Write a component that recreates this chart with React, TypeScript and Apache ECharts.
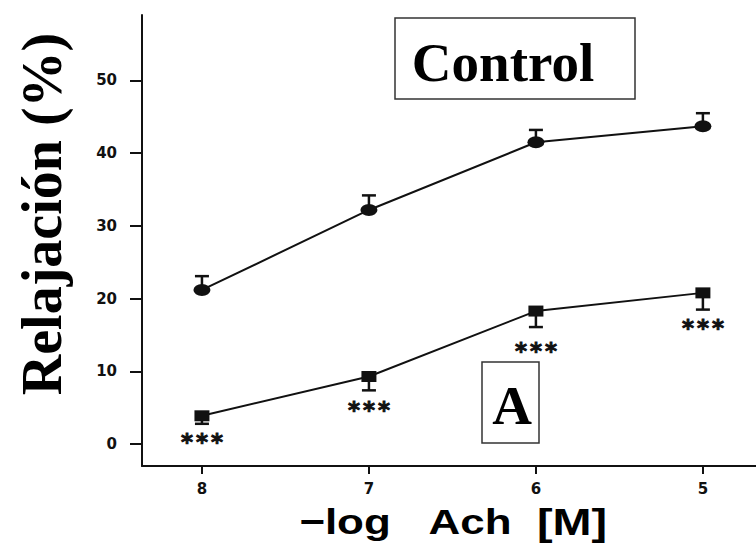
import React, { useEffect, useRef } from "react";
import * as echarts from "echarts";

// -log [Ach] (M) doses
const doses = [8, 7, 6, 5];
const doseTicks = [8, 7, 6, 5];
const yTicks = [0, 10, 20, 30, 40, 50];

// Control (circles): mean and SEM (upper bars)
const controlMean = [21.2, 32.2, 41.5, 43.7];
const controlSem = [1.9, 2.0, 1.7, 1.8];

// Treated "A" (squares): mean and SEM (lower bars)
const treatedMean = [3.9, 9.3, 18.3, 20.8];
const treatedSem = [1.1, 1.9, 2.2, 2.3];

// significance marks under the treated curve
const starLevel = [1.0, 5.4, 13.5, 16.6];
const starLabels = ["***", "***", "***", "***"];

const ellipseSymbol = "path://M0,6A8,6 0 1,1 16,6A8,6 0 1,1 0,6Z";
const ink = "#111";

export default function App() {
  const ref = useRef<HTMLDivElement>(null);

  useEffect(() => {
    const chart = echarts.init(ref.current!, null, { renderer: "svg" });

    const errData = (mean: number[], sem: number[], dir: number) =>
      doses.map((d, i) => [d, mean[i], mean[i] + dir * sem[i]]);

    const renderErr = (_p: any, api: any) => {
      const x = api.value(0);
      const p0 = api.coord([x, api.value(1)]);
      const p1 = api.coord([x, api.value(2)]);
      return {
        type: "group",
        children: [
          {
            type: "line",
            shape: { x1: p0[0], y1: p0[1], x2: p1[0], y2: p1[1] },
            style: { stroke: ink, lineWidth: 2.5 },
          },
          {
            type: "line",
            shape: { x1: p1[0] - 7, y1: p1[1], x2: p1[0] + 7, y2: p1[1] },
            style: { stroke: ink, lineWidth: 2.5 },
          },
        ],
      };
    };

    const renderStars = (p: any, api: any) => {
      const pt = api.coord([api.value(0), api.value(1)]);
      const chars = starLabels[p.dataIndex].split("");
      const step = 15;
      const start = -((chars.length - 1) * step) / 2;
      return {
        type: "group",
        children: chars.map((c, k) => ({
          type: "text",
          x: pt[0] + start + k * step,
          y: pt[1] + 5,
          style: {
            text: c,
            fontSize: 23,
            fontWeight: "bold",
            fontFamily: "DejaVu Sans",
            fill: ink,
            stroke: ink,
            lineWidth: 0.9,
            align: "center",
            verticalAlign: "middle",
          },
        })),
      };
    };

    const serif = "Liberation Serif";
    const tickFont = {
      fontFamily: "DejaVu Sans",
      fontWeight: "bold" as const,
      fontSize: 15,
      color: ink,
    };

    chart.setOption({
      animation: false,
      backgroundColor: "#fff",
      grid: { left: 142, right: 0, top: 15, bottom: 80, outerBoundsMode: "none" } as any,
      xAxis: {
        type: "value",
        inverse: true,
        min: 4.682,
        max: 8.359,
        splitLine: { show: false },
        axisLine: { show: true, onZero: false, lineStyle: { color: ink, width: 2 } },
        axisTick: { show: true, customValues: doseTicks, length: 8, lineStyle: { color: ink, width: 2 } },
        axisLabel: { customValues: doseTicks, margin: 15, ...tickFont },
      },
      yAxis: {
        type: "value",
        min: -3,
        max: 59,
        splitLine: { show: false },
        axisLine: { show: true, onZero: false, lineStyle: { color: ink, width: 2 } },
        axisTick: { show: true, customValues: yTicks, length: 12, lineStyle: { color: ink, width: 2 } },
        axisLabel: { customValues: yTicks, margin: 25, ...tickFont },
      },
      series: [
        {
          type: "custom",
          name: "Control SEM",
          renderItem: renderErr,
          data: errData(controlMean, controlSem, 1),
          z: 2,
          silent: true,
        },
        {
          type: "custom",
          name: "A SEM",
          renderItem: renderErr,
          data: errData(treatedMean, treatedSem, -1),
          z: 2,
          silent: true,
        },
        {
          type: "line",
          name: "Control",
          data: doses.map((d, i) => [d, controlMean[i]]),
          symbol: ellipseSymbol,
          symbolSize: [17, 12],
          itemStyle: { color: ink },
          lineStyle: { color: ink, width: 2 },
          z: 3,
        },
        {
          type: "line",
          name: "A",
          data: doses.map((d, i) => [d, treatedMean[i]]),
          symbol: "rect",
          symbolSize: [15, 11],
          itemStyle: { color: ink },
          lineStyle: { color: ink, width: 2 },
          z: 3,
        },
        {
          type: "custom",
          name: "significance",
          renderItem: renderStars,
          data: doses.map((d, i) => [d, starLevel[i]]),
          z: 4,
          silent: true,
        },
      ],
      graphic: [
        {
          type: "text",
          x: 42,
          y: 214,
          rotation: Math.PI / 2,
          style: {
            text: "Relajación (%)",
            fontFamily: serif,
            fontWeight: "bold",
            fontSize: 56,
            fill: "#000",
            align: "center",
            verticalAlign: "middle",
          },
        },
        {
          type: "rect",
          shape: { x: 395, y: 18, width: 240, height: 81 },
          style: { fill: "#fff", stroke: "#333", lineWidth: 1.5 },
        },
        {
          type: "text",
          x: 503,
          y: 62,
          style: {
            text: "Control",
            fontFamily: serif,
            fontWeight: "bold",
            fontSize: 55,
            fill: "#000",
            align: "center",
            verticalAlign: "middle",
          },
        },
        {
          type: "rect",
          shape: { x: 482, y: 362, width: 57, height: 81 },
          style: { fill: "#fff", stroke: "#333", lineWidth: 1.5 },
        },
        {
          type: "text",
          x: 512,
          y: 405,
          style: {
            text: "A",
            fontFamily: serif,
            fontWeight: "bold",
            fontSize: 55,
            fill: "#000",
            align: "center",
            verticalAlign: "middle",
          },
        },
        {
          type: "text",
          x: 345,
          y: 522,
          scaleX: 1.22,
          style: {
            text: "−log",
            fontFamily: "Liberation Sans",
            fontWeight: "bold",
            fontSize: 36,
            fill: "#000",
            align: "center",
            verticalAlign: "middle",
          },
        },
        {
          type: "text",
          x: 470,
          y: 522,
          scaleX: 1.22,
          style: {
            text: "Ach",
            fontFamily: "Liberation Sans",
            fontWeight: "bold",
            fontSize: 36,
            fill: "#000",
            align: "center",
            verticalAlign: "middle",
          },
        },
        {
          type: "text",
          x: 572,
          y: 522,
          scaleX: 1.3,
          style: {
            text: "[M]",
            fontFamily: "Liberation Sans",
            fontWeight: "bold",
            fontSize: 36,
            fill: "#000",
            align: "center",
            verticalAlign: "middle",
          },
        },
      ],
    });

    return () => chart.dispose();
  }, []);

  return (
    <div
      ref={ref}
      style={{ position: "absolute", left: 0, top: 0, width: 756, height: 546 }}
    />
  );
}
